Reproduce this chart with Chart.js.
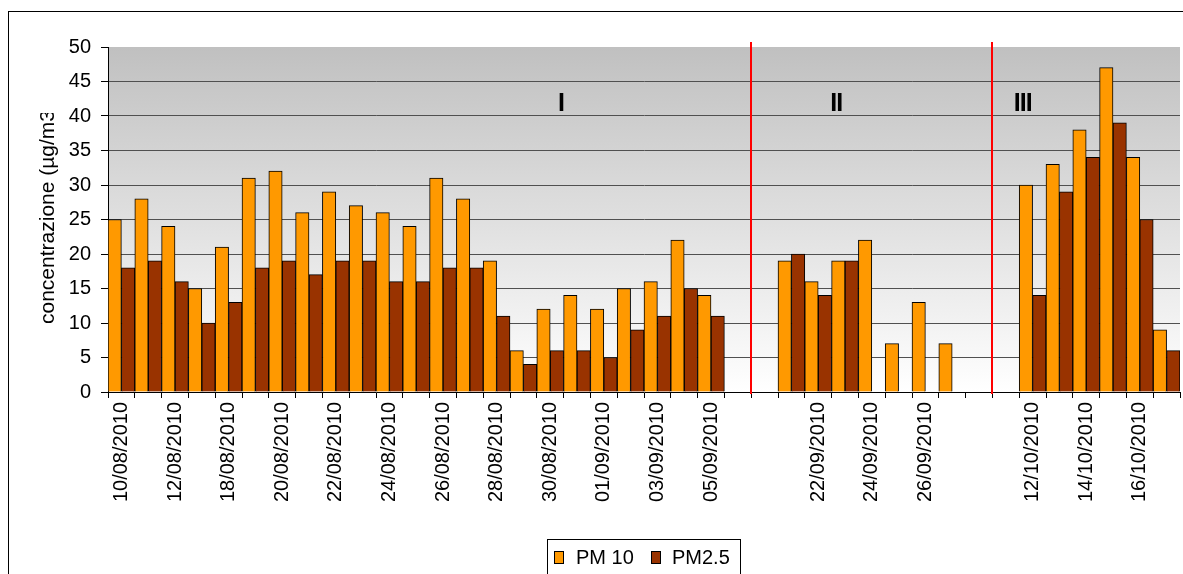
<!DOCTYPE html>
<html>
<head>
<meta charset="utf-8">
<script src="https://cdn.jsdelivr.net/npm/chart.js@4/dist/chart.umd.min.js"></script>
<style>
  html, body { margin: 0; padding: 0; background: #ffffff; }
  #wrap { position: absolute; left: 0; top: 0; width: 1183px; height: 574px; }
</style>
</head>
<body>
<div id="wrap"><canvas id="c" width="1183" height="574"></canvas></div>
<script>
// Sampling days (blank entries separate the three campaigns)
const categories = [
  '10/08/2010','11/08/2010','12/08/2010','17/08/2010','18/08/2010','19/08/2010',
  '20/08/2010','21/08/2010','22/08/2010','23/08/2010','24/08/2010','25/08/2010',
  '26/08/2010','27/08/2010','28/08/2010','29/08/2010','30/08/2010','31/08/2010',
  '01/09/2010','02/09/2010','03/09/2010','04/09/2010','05/09/2010','','',
  '21/09/2010','22/09/2010','23/09/2010','24/09/2010','25/09/2010','26/09/2010',
  '27/09/2010','','','12/10/2010','13/10/2010','14/10/2010','15/10/2010',
  '16/10/2010','17/10/2010'
];

// Daily concentrations, µg/m3
const pm10 = [25,28,24,15,21,31,32,26,29,27,26,24,31,28,19,6,12,14,12,15,16,22,14,
              null,null,19,16,19,22,7,13,7,null,null,30,33,38,47,34,9];
const pm25 = [18,19,16,10,13,18,19,17,19,19,16,16,18,18,11,4,6,6,5,9,11,15,11,
              null,null,20,14,19,null,null,null,null,null,null,14,29,34,39,25,6];

const seriesNames = ['PM 10', 'PM2.5'];
const seriesColors = ['#FF9900', '#993300'];

// Campaign separators (between categories) and campaign names
const separators = [23.5, 32.5];
const periodNames = ['I', 'II', 'III'];
const periodPos = [16.4, 26.67, 33.63];
const periodLevel = 41.7;

const yTicks = [0, 5, 10, 15, 20, 25, 30, 35, 40, 45, 50];

const FONT = '"Liberation Sans", Arial, sans-serif';
Chart.defaults.font.family = FONT;
Chart.defaults.color = '#000000';

const decor = {
  id: 'decor',
  beforeDraw(chart) {
    const ctx = chart.ctx, a = chart.chartArea;
    ctx.save();
    // outer frame
    ctx.strokeStyle = '#000000';
    ctx.lineWidth = 1;
    ctx.strokeRect(8.5, 11.5, 1300, 700);
    // plot background
    const g = ctx.createLinearGradient(0, a.top, 0, a.bottom);
    g.addColorStop(0, '#c0c0c0');
    g.addColorStop(1, '#ffffff');
    ctx.fillStyle = g;
    ctx.fillRect(a.left, a.top, a.right - a.left, a.bottom - a.top);
    ctx.restore();
  },
  afterDatasetsDraw(chart) {
    const ctx = chart.ctx, a = chart.chartArea;
    const xs = chart.scales.x, ys = chart.scales.y;
    ctx.save();
    ctx.strokeStyle = '#ff0000';
    ctx.lineWidth = 2;
    separators.forEach(s => {
      const x = Math.round(xs.getPixelForValue(s));
      ctx.beginPath();
      ctx.moveTo(x, a.top - 5);
      ctx.lineTo(x, a.bottom + 2);
      ctx.stroke();
    });
    ctx.fillStyle = '#000000';
    ctx.font = 'bold 25px ' + FONT;
    ctx.textAlign = 'center';
    ctx.textBaseline = 'middle';
    try { ctx.letterSpacing = '-1px'; } catch (e) {}
    periodNames.forEach((n, i) => {
      ctx.fillText(n, xs.getPixelForValue(periodPos[i]), ys.getPixelForValue(periodLevel));
    });
    ctx.restore();
  },
  afterDraw(chart) {
    const ctx = chart.ctx;
    ctx.save();
    // axis title, clipped at the top as in the framed layout
    ctx.beginPath();
    ctx.rect(0, 113, 100, 400);
    ctx.clip();
    ctx.translate(54, 324);
    ctx.rotate(-Math.PI / 2);
    ctx.font = '21px ' + FONT;
    ctx.fillStyle = '#000000';
    ctx.textAlign = 'left';
    ctx.textBaseline = 'alphabetic';
    ctx.fillText('concentrazione (µg/m3)', 0, 0);
    ctx.restore();

    // legend box
    ctx.save();
    ctx.strokeStyle = '#000000';
    ctx.lineWidth = 1;
    ctx.fillStyle = '#ffffff';
    ctx.fillRect(547.5, 539.5, 193, 60);
    ctx.strokeRect(547.5, 539.5, 193, 60);
    ctx.font = '20px ' + FONT;
    ctx.textBaseline = 'alphabetic';
    const items = [{x: 554.5, tx: 576}, {x: 651.5, tx: 672}];
    items.forEach((it, i) => {
      ctx.fillStyle = seriesColors[i];
      ctx.fillRect(it.x, 551.5, 9, 12);
      ctx.strokeRect(it.x, 551.5, 9, 12);
      ctx.fillStyle = '#000000';
      ctx.fillText(seriesNames[i], it.tx, 564);
    });
    ctx.restore();
  }
};

new Chart(document.getElementById('c'), {
  type: 'bar',
  data: {
    labels: categories,
    datasets: [
      { label: seriesNames[0], data: pm10, backgroundColor: seriesColors[0],
        borderColor: '#000000', borderWidth: 1, barPercentage: 1, categoryPercentage: 1 },
      { label: seriesNames[1], data: pm25, backgroundColor: seriesColors[1],
        borderColor: '#000000', borderWidth: 1, barPercentage: 1, categoryPercentage: 1 }
    ]
  },
  options: {
    responsive: false,
    animation: false,
    devicePixelRatio: 1,
    layout: { autoPadding: false, padding: { left: 0, top: 47, right: 3, bottom: 0 } },
    plugins: { legend: { display: false }, tooltip: { enabled: false } },
    scales: {
      x: {
        offset: true,
        grid: { drawOnChartArea: false, drawTicks: true, tickLength: 6, tickColor: '#000000', offset: true },
        border: { color: '#000000', width: 1 },
        ticks: {
          autoSkip: false, maxRotation: 90, minRotation: 90, padding: 4,
          font: { size: 20 }, color: '#000000',
          callback: (v, i) => (i % 2 === 0 ? categories[i] : '')
        },
        afterFit: s => { s.height = 182; s.paddingLeft = 0; s.paddingRight = 0; }
      },
      y: {
        min: 0, max: 50,
        afterBuildTicks: s => { s.ticks = yTicks.map(v => ({ value: v })); },
        grid: {
          color: c => (c.tick && (c.tick.value === 0 || c.tick.value === 50)) ? 'rgba(0,0,0,0)' : '#505050',
          lineWidth: 1, drawTicks: true, tickLength: 7, tickColor: '#000000'
        },
        border: { color: '#000000', width: 1 },
        ticks: { padding: 10, font: { size: 20 }, color: '#000000' },
        afterFit: s => { s.width = 108; s.paddingTop = 0; s.paddingBottom = 0; }
      }
    }
  },
  plugins: [decor]
});
</script>
</body>
</html>
